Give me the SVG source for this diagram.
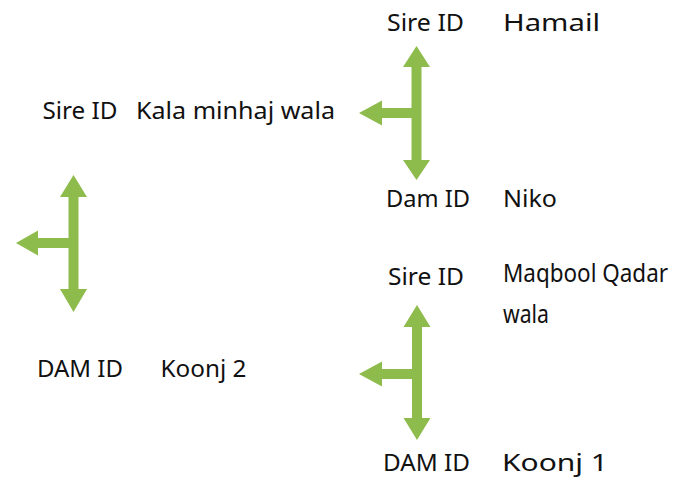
<svg xmlns="http://www.w3.org/2000/svg" width="675" height="482" viewBox="0 0 675 482">
<style>
.lbl{font-family:"Noto Sans","Liberation Sans",sans-serif;font-size:23px;fill:#111}
.nm{font-family:"Noto Sans","Liberation Sans",sans-serif;font-size:24px;fill:#111}
.mq{font-family:"Noto Sans","Liberation Sans",sans-serif;font-size:25px;fill:#111}
.arr{fill:#8DBB4C}
</style>
<rect width="675" height="482" fill="#fff"/>
<g id="connectors">
<polygon class="arr" points="416.5,46 430,67 421.5,67 421.5,160 430,160 416.5,180 403,160 411.5,160 411.5,118 382,118 382,125.5 359,113 382,100.5 382,108 411.5,108 411.5,67 403,67"/>
<polygon class="arr" points="73.5,175 87,197 78.5,197 78.5,289 87,289 73.5,312 60,289 68.5,289 68.5,248 38,248 38,255.5 16,243 38,230.5 38,238 68.5,238 68.5,197 60,197"/>
<polygon class="arr" points="417,305 430.5,327 422,327 422,418 430.5,418 417,440 403.5,418 412,418 412,379 382,379 382,386.5 359,374 382,361.5 382,369 412,369 412,327 403.5,327"/>
</g>
<g id="sire-top">
<text class="lbl" x="387" y="30.5" textLength="77" lengthAdjust="spacingAndGlyphs">Sire ID</text>
<text class="nm" x="503" y="30.5" textLength="97" lengthAdjust="spacingAndGlyphs">Hamail</text>
</g>
<g id="sire-left">
<text class="lbl" x="42.5" y="119" textLength="75" lengthAdjust="spacingAndGlyphs">Sire ID</text>
<text class="lbl" x="136" y="119" textLength="199" lengthAdjust="spacingAndGlyphs">Kala minhaj wala</text>
</g>
<g id="dam-top">
<text class="lbl" x="386" y="207" textLength="84" lengthAdjust="spacingAndGlyphs">Dam ID</text>
<text class="nm" x="503" y="207" textLength="54" lengthAdjust="spacingAndGlyphs">Niko</text>
</g>
<g id="sire-bottom">
<text class="lbl" x="388" y="285" textLength="76" lengthAdjust="spacingAndGlyphs">Sire ID</text>
<text class="mq" x="503" y="282" textLength="165" lengthAdjust="spacingAndGlyphs">Maqbool Qadar</text>
<text class="mq" x="503" y="323" textLength="46" lengthAdjust="spacingAndGlyphs">wala</text>
</g>
<g id="dam-left">
<text class="lbl" x="37" y="376.5" textLength="86" lengthAdjust="spacingAndGlyphs">DAM ID</text>
<text class="lbl" x="160.5" y="376.5" textLength="86" lengthAdjust="spacingAndGlyphs">Koonj 2</text>
</g>
<g id="dam-bottom">
<text class="lbl" x="383" y="471" textLength="87" lengthAdjust="spacingAndGlyphs">DAM ID</text>
<text class="nm" x="502" y="471" textLength="106" lengthAdjust="spacingAndGlyphs">Koonj 1</text>
</g>
</svg>
